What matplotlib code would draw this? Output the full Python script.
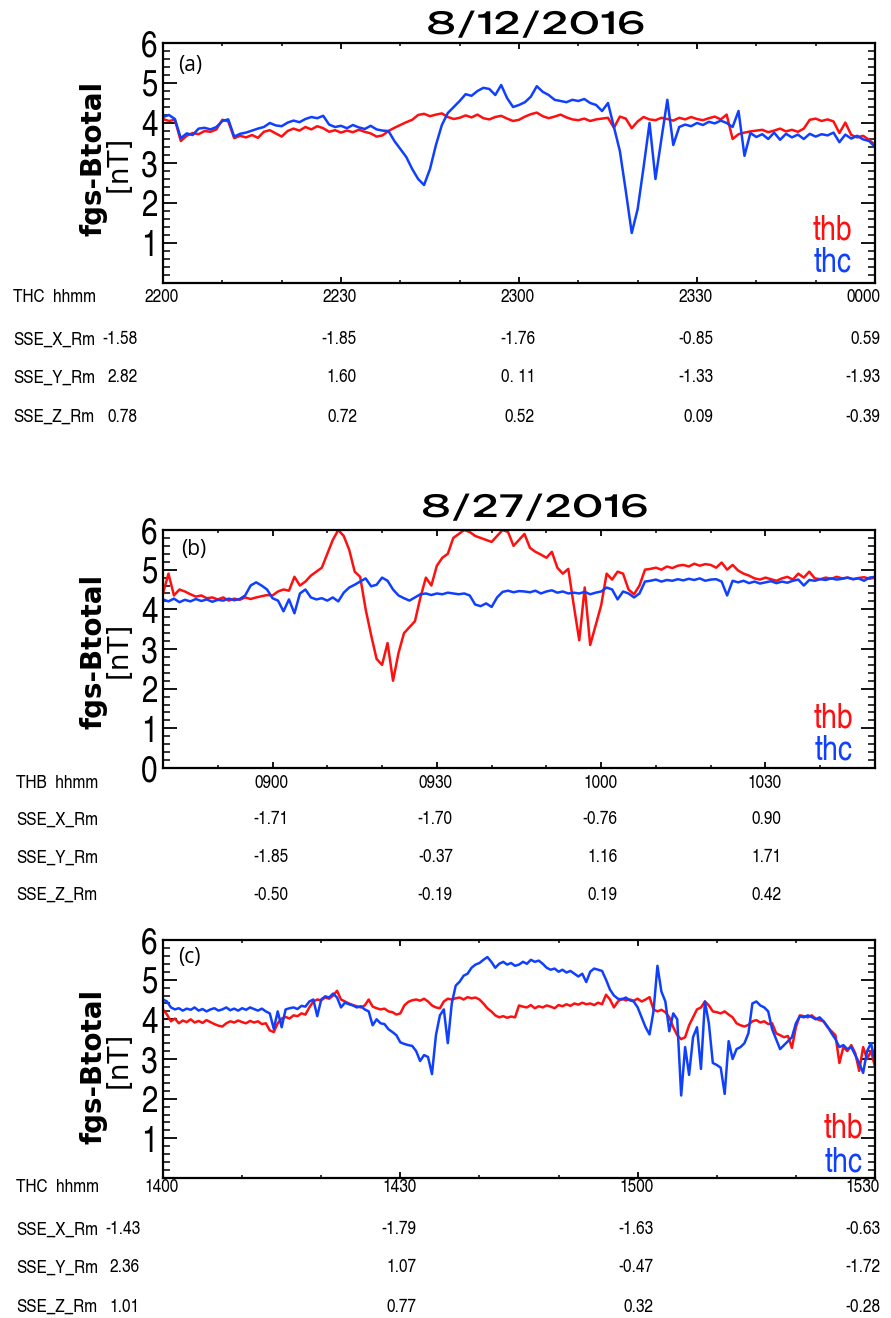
import matplotlib
matplotlib.use('Agg')
import matplotlib.pyplot as plt
import matplotlib.patheffects as pe
import numpy as np
from matplotlib.ticker import MultipleLocator, FixedLocator
from matplotlib.transforms import blended_transform_factory, ScaledTranslation

# ---- fgs Btotal, 1-min samples, 8/12/2016 22:00-24:00 ----
thb_a = [4.10, 4.05, 4.08, 3.55, 3.68, 3.75, 3.72, 3.80, 3.78, 3.84,
         4.08, 4.04, 3.62, 3.68, 3.64, 3.70, 3.63, 3.78, 3.82, 3.74,
         3.66, 3.80, 3.86, 3.81, 3.90, 3.84, 3.92, 3.87, 3.78, 3.82,
         3.76, 3.81, 3.77, 3.83, 3.78, 3.74, 3.66, 3.69, 3.80, 3.88,
         3.95, 4.02, 4.08, 4.20, 4.23, 4.17, 4.21, 4.24, 4.15, 4.10,
         4.13, 4.19, 4.14, 4.21, 4.12, 4.09, 4.15, 4.18, 4.11, 4.05,
         4.08, 4.16, 4.22, 4.26, 4.17, 4.12, 4.16, 4.21, 4.14, 4.09,
         4.07, 4.11, 4.05, 4.09, 4.11, 4.13, 3.88, 4.16, 4.11, 3.87,
         4.04, 4.15, 4.09, 4.07, 4.13, 4.10, 4.06, 4.13, 4.09, 4.15,
         4.10, 4.07, 4.12, 4.16, 4.09, 4.21, 3.60, 3.72, 3.76, 3.79,
         3.81, 3.83, 3.77, 3.81, 3.86, 3.79, 3.83, 3.78, 3.86, 4.08,
         4.11, 4.05, 4.09, 4.04, 3.75, 4.01, 3.70, 3.64, 3.68, 3.58,
         3.45]
thc_a = [4.15, 4.20, 4.10, 3.62, 3.74, 3.70, 3.86, 3.88, 3.84, 3.90,
         4.05, 4.09, 3.66, 3.73, 3.76, 3.81, 3.86, 3.90, 4.00, 3.94,
         3.92, 4.01, 4.06, 4.02, 4.10, 4.15, 4.12, 4.18, 3.96, 3.90,
         3.93, 3.87, 3.95, 3.89, 3.85, 3.93, 3.84, 3.81, 3.80, 3.55,
         3.35, 3.15, 2.85, 2.60, 2.45, 2.85, 3.45, 3.95, 4.25, 4.40,
         4.55, 4.72, 4.68, 4.80, 4.88, 4.85, 4.70, 4.95, 4.62, 4.40,
         4.45, 4.52, 4.66, 4.92, 4.78, 4.70, 4.58, 4.55, 4.52, 4.58,
         4.55, 4.60, 4.50, 4.45, 4.30, 4.50, 3.90, 3.30, 2.30, 1.25,
         1.85, 2.90, 4.00, 2.60, 3.60, 4.58, 3.45, 3.90, 3.96, 3.92,
         4.00, 3.95, 4.03, 3.99, 4.06, 4.00, 3.90, 4.30, 3.18, 3.75,
         3.65, 3.72, 3.60, 3.76, 3.58, 3.73, 3.64, 3.71, 3.60, 3.73,
         3.66, 3.72, 3.69, 3.76, 3.52, 3.71, 3.61, 3.68, 3.59, 3.55,
         3.40]

# ---- 8/27/2016 08:40-10:50, 1-min samples ----
thb_b = [4.40, 4.90, 4.35, 4.50, 4.45, 4.38, 4.32, 4.35, 4.28, 4.30,
         4.25, 4.30, 4.22, 4.27, 4.24, 4.30, 4.26, 4.30, 4.33, 4.36,
         4.35, 4.45, 4.50, 4.47, 4.82, 4.60, 4.70, 4.85, 4.95, 5.05,
         5.40, 5.75, 6.00, 5.85, 5.50, 4.95, 4.82, 4.00, 3.35, 2.75,
         2.60, 3.15, 2.20, 2.90, 3.40, 3.55, 3.70, 4.30, 4.80, 4.60,
         5.10, 5.30, 5.40, 5.80, 5.90, 6.00, 5.95, 5.85, 5.80, 5.75,
         5.70, 5.85, 6.00, 5.95, 5.60, 5.75, 5.90, 5.55, 5.45, 5.38,
         5.30, 5.45, 5.05, 4.90, 5.02, 4.10, 3.22, 4.55, 3.10, 3.60,
         4.10, 4.90, 4.75, 4.95, 4.90, 4.50, 4.38, 4.60, 5.00, 5.02,
         5.05, 5.00, 5.08, 5.04, 5.10, 5.12, 5.08, 5.15, 5.10, 5.14,
         5.12, 5.05, 5.18, 5.00, 5.12, 4.98, 4.90, 4.85, 4.78, 4.75,
         4.80, 4.76, 4.72, 4.78, 4.82, 4.75, 4.90, 4.80, 4.95, 4.78,
         4.76, 4.80, 4.77, 4.82, 4.78, 4.80, 4.76, 4.79, 4.81, 4.77,
         4.80]
thc_b = [4.25, 4.20, 4.27, 4.18, 4.24, 4.20, 4.26, 4.21, 4.25, 4.19,
         4.24, 4.22, 4.27, 4.23, 4.26, 4.35, 4.60, 4.68, 4.60, 4.50,
         4.28, 4.22, 3.95, 4.25, 3.90, 4.40, 4.50, 4.30, 4.25, 4.28,
         4.22, 4.30, 4.20, 4.42, 4.55, 4.62, 4.70, 4.78, 4.58, 4.62,
         4.80, 4.72, 4.50, 4.35, 4.28, 4.22, 4.30, 4.38, 4.40, 4.36,
         4.40, 4.38, 4.42, 4.40, 4.38, 4.40, 4.35, 4.12, 4.08, 4.15,
         4.06, 4.30, 4.44, 4.47, 4.43, 4.46, 4.45, 4.43, 4.47, 4.40,
         4.45, 4.48, 4.42, 4.45, 4.40, 4.42, 4.40, 4.44, 4.38, 4.42,
         4.45, 4.55, 4.50, 4.25, 4.45, 4.40, 4.30, 4.40, 4.70, 4.72,
         4.75, 4.70, 4.74, 4.72, 4.76, 4.73, 4.77, 4.74, 4.78, 4.72,
         4.75, 4.76, 4.70, 4.35, 4.72, 4.68, 4.72, 4.66, 4.70, 4.65,
         4.68, 4.71, 4.66, 4.70, 4.67, 4.72, 4.75, 4.60, 4.74, 4.72,
         4.76, 4.74, 4.78, 4.75, 4.77, 4.80, 4.76, 4.78, 4.72, 4.80,
         4.82]

# ---- 14:00-15:30, 30-s samples ----
thb_c = [4.25, 4.12, 3.95, 4.02, 3.90, 3.97, 3.93, 4.00, 3.92, 3.96,
         3.91, 3.98, 3.93, 3.88, 3.84, 3.82, 3.90, 3.95, 3.92, 3.97,
         3.93, 3.90, 3.96, 3.92, 3.95, 3.88, 3.90, 3.72, 3.68, 3.90,
         4.02, 4.06, 4.02, 4.10, 4.08, 4.15, 4.12, 4.30, 4.45, 4.50,
         4.48, 4.55, 4.52, 4.60, 4.72, 4.50, 4.45, 4.40, 4.36, 4.33,
         4.30, 4.35, 4.50, 4.32, 4.28, 4.25, 4.27, 4.20, 4.18, 4.12,
         4.15, 4.35, 4.44, 4.48, 4.50, 4.47, 4.52, 4.45, 4.35, 4.30,
         4.28, 4.45, 4.52, 4.50, 4.53, 4.55, 4.50, 4.56, 4.53, 4.55,
         4.50, 4.40, 4.28, 4.20, 4.10, 4.05, 4.08, 4.04, 4.07, 4.05,
         4.35, 4.32, 4.30, 4.36, 4.28, 4.33, 4.30, 4.35, 4.32, 4.28,
         4.36, 4.33, 4.38, 4.34, 4.40, 4.37, 4.42, 4.38, 4.40, 4.36,
         4.42, 4.38, 4.62, 4.50, 4.30, 4.45, 4.52, 4.48, 4.50, 4.47,
         4.52, 4.45, 4.50, 4.56, 4.25, 4.20, 4.24, 4.18, 4.05, 3.80,
         3.60, 3.50, 3.55, 3.85, 4.05, 4.25, 4.30, 4.45, 4.35, 4.20,
         4.18, 4.15, 4.20, 4.12, 4.05, 3.90, 3.85, 3.82, 3.86, 3.95,
         3.98, 3.92, 3.95, 3.88, 3.90, 3.65, 3.60, 3.55, 3.58, 3.28,
         3.80, 4.10, 4.08, 4.05, 4.10, 4.02, 3.98, 3.95, 3.80, 3.70,
         3.60, 2.90, 3.30, 3.20, 3.35, 3.15, 2.70, 3.30, 3.00, 3.20,
         2.80]
thc_c = [4.50, 4.45, 4.30, 4.25, 4.28, 4.22, 4.27, 4.24, 4.30, 4.22,
         4.26, 4.20, 4.25, 4.28, 4.22, 4.25, 4.30, 4.23, 4.27, 4.22,
         4.28, 4.24, 4.30, 4.26, 4.22, 4.27, 4.20, 4.15, 3.76, 4.20,
         3.80, 4.25, 4.28, 4.30, 4.26, 4.34, 4.32, 4.45, 4.50, 4.08,
         4.50, 4.58, 4.55, 4.65, 4.55, 4.30, 4.42, 4.38, 4.35, 4.30,
         4.33, 4.25, 4.20, 3.85, 4.00, 3.90, 3.88, 3.75, 3.68, 3.60,
         3.42, 3.38, 3.35, 3.33, 3.20, 2.95, 3.10, 3.05, 2.62, 3.60,
         4.10, 4.25, 3.40, 4.40, 4.85, 4.95, 5.10, 5.15, 5.30, 5.38,
         5.42, 5.50, 5.57, 5.45, 5.30, 5.40, 5.45, 5.38, 5.42, 5.35,
         5.38, 5.45, 5.40, 5.50, 5.45, 5.48, 5.40, 5.30, 5.25, 5.28,
         5.20, 5.25, 5.18, 5.22, 5.15, 5.08, 5.15, 4.94, 5.20, 5.28,
         5.25, 5.22, 5.00, 4.75, 4.60, 4.52, 4.50, 4.55, 4.48, 4.45,
         4.30, 4.05, 3.80, 3.62, 4.20, 5.35, 4.70, 4.45, 3.70, 4.15,
         4.00, 2.08, 3.30, 2.60, 3.55, 3.80, 2.75, 4.45, 3.90, 2.90,
         2.85, 2.78, 2.12, 3.45, 3.00, 3.25, 3.30, 3.40, 3.65, 4.40,
         4.45, 4.35, 4.30, 4.20, 3.75, 3.50, 3.25, 3.35, 3.45, 3.55,
         3.90, 4.08, 4.05, 4.10, 4.06, 4.00, 4.05, 3.95, 3.82, 3.65,
         3.50, 3.30, 3.35, 3.25, 3.30, 3.10, 2.90, 2.65, 3.20, 3.40,
         2.90]

# time ticks (minutes of day) and their hhmm labels
ticks_a = [1320, 1350, 1380, 1410, 1440]
hhmm_a = ['2200', '2230', '2300', '2330', '0000']
ticks_b = [540, 570, 600, 630]
hhmm_b = ['0900', '0930', '1000', '1030']
ticks_c = [840, 870, 900, 930]
hhmm_c = ['1400', '1430', '1500', '1530']

# spacecraft position rows
sse_start_a = ['-1.58', '2.82', '0.78']
sse_x_a = ['-1.85', '-1.76', '-0.85', '0.59']
sse_y_a = ['1.60', '0. 11', '-1.33', '-1.93']
sse_z_a = ['0.72', '0.52', '0.09', '-0.39']
sse_x_b = ['-1.71', '-1.70', '-0.76', '0.90']
sse_y_b = ['-1.85', '-0.37', '1.16', '1.71']
sse_z_b = ['-0.50', '-0.19', '0.19', '0.42']
sse_start_c = ['-1.43', '2.36', '1.01']
sse_x_c = ['-1.79', '-1.63', '-0.63']
sse_y_c = ['1.07', '-0.47', '-1.72']
sse_z_c = ['0.77', '0.32', '-0.28']

RED = '#ff1010'
BLUE = '#1040ff'
NARROW = ['TeX Gyre Heros Cn', 'DejaVu Sans']
WIDE = ['Special Gothic Expanded One', 'TeX Gyre Adventor', 'DejaVu Sans']
# thin the heavy expanded face a little
THIN = [pe.Normal(), pe.Stroke(linewidth=1.4, foreground='white')]
ROWSIZE = 13.5

W, H = 891, 1318
fig = plt.figure(figsize=(W / 100, H / 100), dpi=100)


def fx(px):
    return px / W


def fy(py):
    return 1 - py / H


def panel(top, bottom, t0, step, thb, thc, xlim, yticks, tag, tagpos,
          leg, ylab_y):
    ax = fig.add_axes([fx(163), fy(bottom), fx(875 - 163), (bottom - top) / H])
    ax.plot(t0 + step * np.arange(len(thb)), thb, color=RED, lw=1.8)
    ax.plot(t0 + step * np.arange(len(thc)), thc, color=BLUE, lw=1.8)
    ax.set_xlim(*xlim)
    ax.set_ylim(0, 6)
    ax.xaxis.set_major_locator(MultipleLocator(30))
    ax.xaxis.set_minor_locator(MultipleLocator(10))
    ax.set_xticklabels([])
    ax.yaxis.set_major_locator(FixedLocator(yticks))
    ax.yaxis.set_minor_locator(MultipleLocator(0.2))
    ax.set_yticklabels([str(v) for v in yticks], family=NARROW, fontsize=26)
    ax.tick_params(axis='y', which='major', direction='in', length=10,
                   width=1.3, right=True, pad=4)
    ax.tick_params(axis='y', which='minor', direction='in', length=5,
                   width=1.1, right=True)
    ax.tick_params(axis='x', which='major', direction='in', length=4,
                   width=1.3, top=True)
    ax.tick_params(axis='x', which='minor', direction='in', length=2.5,
                   width=1.1, top=True)
    for s in ax.spines.values():
        s.set_linewidth(1.6)
    fig.text(fx(tagpos[0]), fy(tagpos[1]), tag, fontsize=15,
             family='Open Sans', ha='left', va='center')
    fig.text(fx(leg[0]), fy(leg[1]), 'thb', color=RED, fontsize=25,
             family=NARROW, ha='right', va='baseline')
    fig.text(fx(leg[0]), fy(leg[2]), 'thc', color=BLUE, fontsize=25,
             family=NARROW, ha='right', va='baseline')
    fig.text(fx(93), fy(ylab_y), 'fgs-Btotal', rotation=90, fontsize=20,
             fontweight='bold', ha='center', va='center')
    fig.text(fx(119), fy((top + bottom) / 2 + 1), '[nT]', rotation=90,
             fontsize=20, ha='center', va='center')
    return ax


def rows(ax, names, label_x, row_y, cols, xmax, start=None, start_x=139):
    # time row then position rows, right-aligned near each tick
    trans = blended_transform_factory(ax.transData, fig.transFigure)
    for i, (name, y) in enumerate(zip(names, row_y)):
        fig.text(fx(label_x), fy(y), name, family=NARROW, fontsize=ROWSIZE,
                 ha='left', va='center')
        if start is not None and i > 0:
            fig.text(fx(start_x), fy(y), start[i - 1], family=NARROW,
                     fontsize=ROWSIZE, ha='right', va='center')
        tk, vals = cols[i]
        for tt, v in zip(tk, vals):
            off = 16 if tt < xmax else 5
            tr = trans + ScaledTranslation(off / 100, 0, fig.dpi_scale_trans)
            ax.text(tt, fy(y), v, transform=tr, family=NARROW,
                    fontsize=ROWSIZE, ha='right', va='center', clip_on=False)


# panel (a)
ax_a = panel(43, 283, 1320, 1, thb_a, thc_a, (1320, 1440),
             [1, 2, 3, 4, 5, 6], '(a)', (178, 66), (852, 240, 272), 158)
rows(ax_a, ['THC  hhmm', 'SSE_X_Rm', 'SSE_Y_Rm', 'SSE_Z_Rm'], 13,
     [298, 340, 378, 417],
     [(ticks_a, hhmm_a), (ticks_a[1:], sse_x_a), (ticks_a[1:], sse_y_a),
      (ticks_a[1:], sse_z_a)], 1440, start=sse_start_a, start_x=138)
fig.text(fx(536), fy(25), '8/12/2016', fontsize=25, family=WIDE,
         ha='center', va='center', path_effects=THIN)

# panel (b)
ax_b = panel(530, 768, 520, 1, thb_b, thc_b, (520, 650),
             [0, 1, 2, 3, 4, 5, 6], '(b)', (181, 550), (853, 727, 760), 651)
rows(ax_b, ['THB  hhmm', 'SSE_X_Rm', 'SSE_Y_Rm', 'SSE_Z_Rm'], 16,
     [783, 820, 858, 895],
     [(ticks_b, hhmm_b), (ticks_b, sse_x_b), (ticks_b, sse_y_b),
      (ticks_b, sse_z_b)], 650)
fig.text(fx(535), fy(508), '8/27/2016', fontsize=25, family=WIDE,
         ha='center', va='center', path_effects=THIN)

# panel (c)
ax_c = panel(940, 1178, 840, 0.5, thb_c, thc_c, (840, 930),
             [1, 2, 3, 4, 5, 6], '(c)', (178, 957), (863, 1138, 1172), 1066)
rows(ax_c, ['THC  hhmm', 'SSE_X_Rm', 'SSE_Y_Rm', 'SSE_Z_Rm'], 16,
     [1188, 1230, 1268, 1307],
     [(ticks_c, hhmm_c), (ticks_c[1:], sse_x_c), (ticks_c[1:], sse_y_c),
      (ticks_c[1:], sse_z_c)], 930, start=sse_start_c, start_x=140)

fig.savefig('out.png', dpi=100)
